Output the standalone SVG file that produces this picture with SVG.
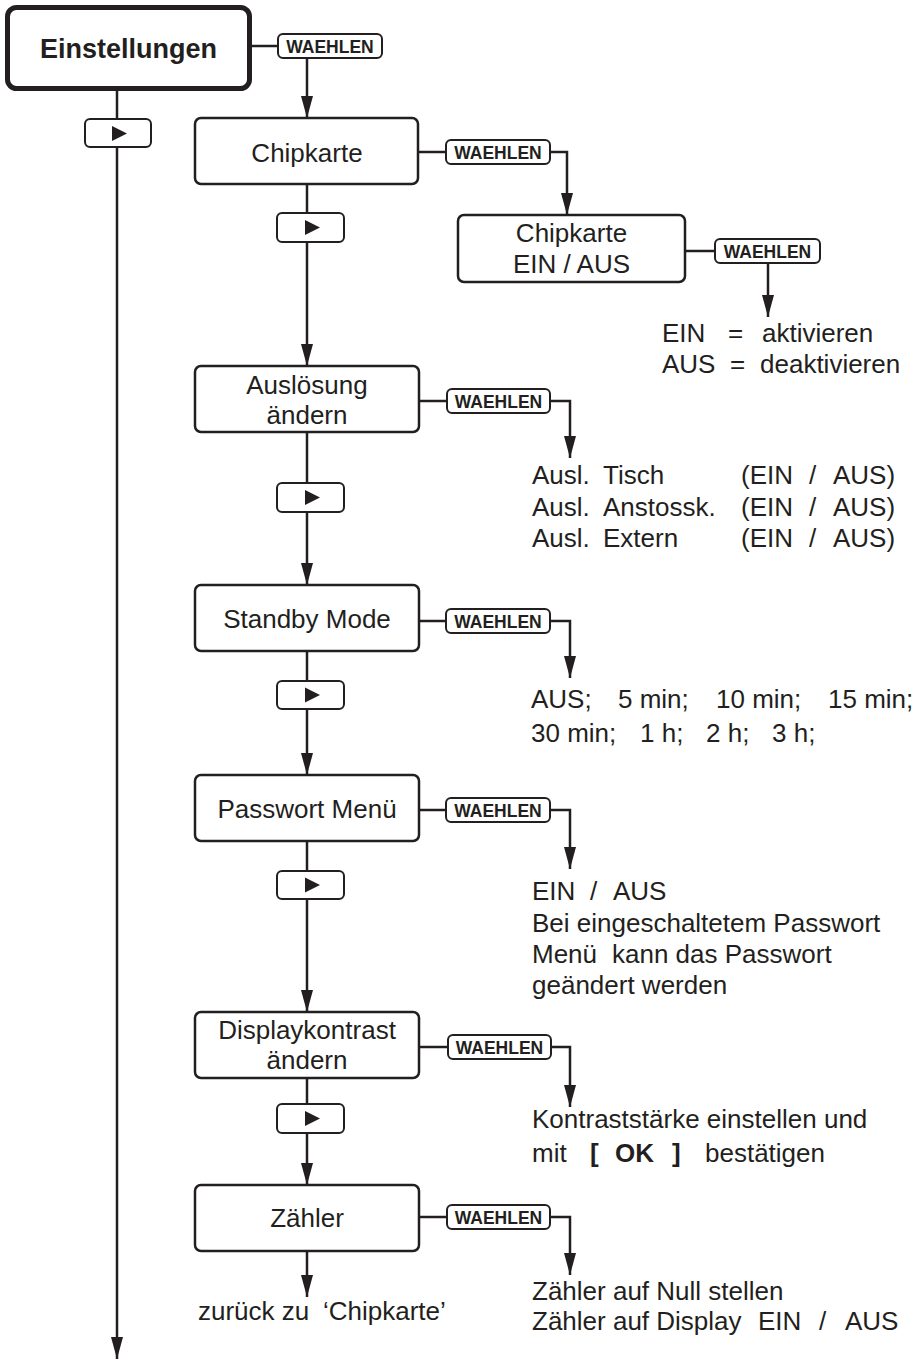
<svg xmlns="http://www.w3.org/2000/svg" width="920" height="1360" viewBox="0 0 920 1360">
<defs>
<style>
.box{fill:#fff;stroke:#231f20;stroke-width:2.5}
.main{fill:#fff;stroke:#231f20;stroke-width:5}
.btn{fill:#fff;stroke:#231f20;stroke-width:2}
.wl{fill:#fff;stroke:#231f20;stroke-width:2}
.ln{fill:none;stroke:#231f20;stroke-width:2.5}
.ar{marker-end:url(#ah)}
.tri{fill:#231f20}
text{font-family:"Liberation Sans",Arial,Helvetica,sans-serif;fill:#231f20}
.t{font-size:26px}
.c{text-anchor:middle}
.w{font-size:17.5px;font-weight:bold;text-anchor:middle}
.b{font-weight:bold}
</style>
<marker id="ah" markerUnits="userSpaceOnUse" markerWidth="22" markerHeight="12" refX="22" refY="6" orient="auto">
<path d="M0,0 L22,6 L0,12 z" fill="#231f20"/>
</marker>
</defs>
<rect width="920" height="1360" fill="#fff"/>

<g id="connectors">
<path class="ln" d="M250,46 H278"/>
<path class="ln ar" d="M307,58 V118"/>
<path class="ln ar" d="M117,90 V1359"/>
<path class="ln ar" d="M307,184 V366"/>
<path class="ln" d="M418,152 H446"/>
<path class="ln ar" d="M550,152 H567 V215"/>
<path class="ln" d="M685,251 H715"/>
<path class="ln ar" d="M768,263 V317"/>
<path class="ln" d="M419,401 H447"/>
<path class="ln ar" d="M550,401 H570 V458"/>
<path class="ln ar" d="M307,432 V585"/>
<path class="ln" d="M419,621 H446"/>
<path class="ln ar" d="M550,621 H570 V678"/>
<path class="ln ar" d="M307,651 V775"/>
<path class="ln" d="M419,810 H446"/>
<path class="ln ar" d="M550,810 H570 V869"/>
<path class="ln ar" d="M307,841 V1012"/>
<path class="ln" d="M419,1047 H448"/>
<path class="ln ar" d="M551,1047 H570 V1107"/>
<path class="ln ar" d="M307,1078 V1185"/>
<path class="ln" d="M419,1217 H447"/>
<path class="ln ar" d="M550,1217 H570 V1275"/>
<path class="ln ar" d="M307,1251 V1297"/>
</g>

<g id="labels">
<g id="w0"><rect class="wl" x="278" y="34" width="104" height="24" rx="5"/><text class="w" x="330" y="52.5">WAEHLEN</text></g>
<g id="w1"><rect class="wl" x="446" y="140" width="104" height="24" rx="5"/><text class="w" x="498" y="158.5">WAEHLEN</text></g>
<g id="w2"><rect class="wl" x="715" y="239" width="105" height="24" rx="5"/><text class="w" x="767.5" y="257.5">WAEHLEN</text></g>
<g id="w3"><rect class="wl" x="447" y="389" width="103" height="24" rx="5"/><text class="w" x="498.5" y="407.5">WAEHLEN</text></g>
<g id="w4"><rect class="wl" x="446" y="609" width="104" height="24" rx="5"/><text class="w" x="498" y="627.5">WAEHLEN</text></g>
<g id="w5"><rect class="wl" x="446" y="798" width="104" height="24" rx="5"/><text class="w" x="498" y="816.5">WAEHLEN</text></g>
<g id="w6"><rect class="wl" x="448" y="1035" width="103" height="24" rx="5"/><text class="w" x="499.5" y="1053.5">WAEHLEN</text></g>
<g id="w7"><rect class="wl" x="447" y="1205" width="103" height="24" rx="5"/><text class="w" x="498.5" y="1223.5">WAEHLEN</text></g>
</g>

<g id="buttons">
<g id="b0"><rect class="btn" x="85" y="119" width="66" height="28" rx="5"/><polygon class="tri" points="112,126 112,141 127,133.5"/></g>
<g id="b1"><rect class="btn" x="277" y="213" width="67" height="29" rx="5"/><polygon class="tri" points="305,220 305,235 320,227.5"/></g>
<g id="b2"><rect class="btn" x="277" y="483" width="67" height="29" rx="5"/><polygon class="tri" points="305,490 305,505 320,497.5"/></g>
<g id="b3"><rect class="btn" x="277" y="681" width="67" height="28" rx="5"/><polygon class="tri" points="305,687.5 305,702.5 320,695"/></g>
<g id="b4"><rect class="btn" x="277" y="871" width="67" height="28" rx="5"/><polygon class="tri" points="305,877.5 305,892.5 320,885"/></g>
<g id="b5"><rect class="btn" x="277" y="1104" width="67" height="29" rx="5"/><polygon class="tri" points="305,1111 305,1126 320,1118.5"/></g>
</g>

<g id="einstellungen"><rect class="main" x="7.5" y="7.5" width="242" height="81" rx="9"/><text class="t c b" x="128.5" y="58" style="font-size:27px">Einstellungen</text></g>
<g id="chipkarte"><rect class="box" x="195" y="118" width="223" height="66" rx="6"/><text class="t c" x="307" y="162">Chipkarte</text></g>
<g id="chipkarte-einaus"><rect class="box" x="458" y="215" width="227" height="67" rx="6"/><text class="t c" x="571.5" y="242">Chipkarte</text><text class="t c" x="571.5" y="273">EIN / AUS</text></g>
<g id="ausloesung"><rect class="box" x="195" y="366" width="224" height="66" rx="6"/><text class="t c" x="307" y="394">Auslösung</text><text class="t c" x="307" y="424">ändern</text></g>
<g id="standby"><rect class="box" x="195" y="585" width="224" height="66" rx="6"/><text class="t c" x="307" y="628">Standby Mode</text></g>
<g id="passwort"><rect class="box" x="195" y="775" width="224" height="66" rx="6"/><text class="t c" x="307" y="818">Passwort Menü</text></g>
<g id="displaykontrast"><rect class="box" x="195" y="1012" width="224" height="66" rx="6"/><text class="t c" x="307" y="1039">Displaykontrast</text><text class="t c" x="307" y="1069">ändern</text></g>
<g id="zaehler"><rect class="box" x="195" y="1185" width="224" height="66" rx="6"/><text class="t c" x="307" y="1227">Zähler</text></g>

<g id="texts">
<text class="t" y="342"><tspan x="662">EIN</tspan><tspan x="728">=</tspan><tspan x="762">aktivieren</tspan></text>
<text class="t" y="373"><tspan x="662">AUS</tspan><tspan x="730">=</tspan><tspan x="760">deaktivieren</tspan></text>

<text class="t" y="484"><tspan x="532">Ausl.</tspan><tspan x="603">Tisch</tspan><tspan x="741">(EIN</tspan><tspan x="809">/</tspan><tspan x="833">AUS)</tspan></text>
<text class="t" y="516"><tspan x="532">Ausl.</tspan><tspan x="603">Anstossk.</tspan><tspan x="741">(EIN</tspan><tspan x="809">/</tspan><tspan x="833">AUS)</tspan></text>
<text class="t" y="547"><tspan x="532">Ausl.</tspan><tspan x="603">Extern</tspan><tspan x="741">(EIN</tspan><tspan x="809">/</tspan><tspan x="833">AUS)</tspan></text>

<text class="t" y="708"><tspan x="531">AUS;</tspan><tspan x="618">5 min;</tspan><tspan x="716">10 min;</tspan><tspan x="828">15 min;</tspan></text>
<text class="t" y="742"><tspan x="531">30 min;</tspan><tspan x="640">1 h;</tspan><tspan x="706">2 h;</tspan><tspan x="772">3 h;</tspan></text>

<text class="t" y="900"><tspan x="532">EIN</tspan><tspan x="590">/</tspan><tspan x="613">AUS</tspan></text>
<text class="t" x="532" y="932">Bei eingeschaltetem Passwort</text>
<text class="t" y="963"><tspan x="532">Menü</tspan><tspan x="612">kann das Passwort</tspan></text>
<text class="t" x="532" y="994">geändert werden</text>

<text class="t" x="532" y="1128">Kontraststärke einstellen und</text>
<text class="t" y="1162"><tspan x="532">mit</tspan><tspan class="b" x="590">[</tspan><tspan class="b" x="615">OK</tspan><tspan class="b" x="672">]</tspan><tspan x="705">bestätigen</tspan></text>

<text class="t" y="1320"><tspan x="198">zurück zu</tspan><tspan x="323">‘Chipkarte’</tspan></text>

<text class="t" x="532" y="1300">Zähler auf Null stellen</text>
<text class="t" y="1330"><tspan x="532">Zähler auf Display</tspan><tspan x="758">EIN</tspan><tspan x="819">/</tspan><tspan x="845">AUS</tspan></text>
</g>
</svg>
